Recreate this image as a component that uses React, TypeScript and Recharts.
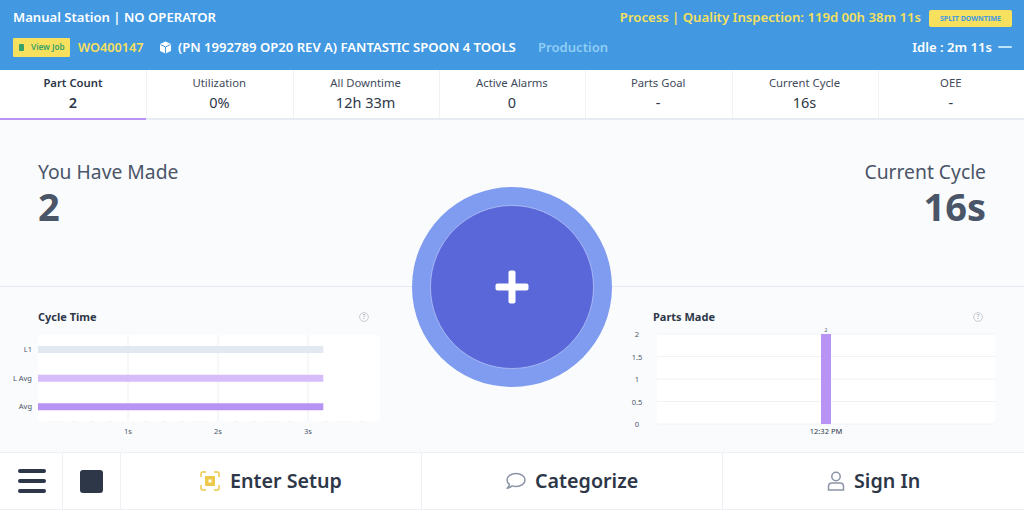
import { BarChart, Bar, XAxis, YAxis, CartesianGrid, LabelList } from 'recharts';

const FONT = '"Noto Sans", sans-serif';

// Cycle Time panel
const cycleLabels = ['L1', 'L Avg', 'Avg'];
const cycleValues = [3.17, 3.17, 3.17];
const cycleColors = ['#E2E8F0', '#D6BCFA', '#B794F4'];
const cycleTicks = [0.2, 0.4, 0.6, 0.8, 1, 1.2, 1.4, 1.6, 1.8, 2, 2.2, 2.4, 2.6, 2.8, 3, 3.2, 3.4, 3.6];
const cycleGridValues = [1, 2, 3];

// Parts Made panel
const partsLabels = ['12:32 PM'];
const partsValues = [2];
const partsTicks = [0, 0.5, 1, 1.5, 2];

// Tabs
const tabTitles = ['Part Count', 'Utilization', 'All Downtime', 'Active Alarms', 'Parts Goal', 'Current Cycle', 'OEE'];
const tabValues = ['2', '0%', '12h 33m', '0', '-', '16s', '-'];

const cycleData = cycleLabels.map((name, i) => ({ name, value: cycleValues[i], fill: cycleColors[i] }));
const partsData = partsLabels.map((name, i) => ({ name, value: partsValues[i] }));

const Txt = ({ x, y, size, color, weight = 400, anchor = 'left', children }: any) => (
  <div
    style={{
      position: 'absolute',
      top: y,
      left: anchor === 'left' ? x : undefined,
      right: anchor === 'right' ? 1024 - x : undefined,
      width: anchor === 'center' ? 200 : undefined,
      marginLeft: anchor === 'center' ? x - 100 : undefined,
      textAlign: anchor === 'center' ? 'center' : undefined,
      fontSize: size,
      color,
      fontWeight: weight,
      lineHeight: 1,
      whiteSpace: 'nowrap',
    }}
  >
    {children}
  </div>
);

const Box = ({ x, y, w, h, color, radius = 0 }: any) => (
  <div style={{ position: 'absolute', left: x, top: y, width: w, height: h, background: color, borderRadius: radius }} />
);

const HelpIcon = ({ x, y }: any) => (
  <svg style={{ position: 'absolute', left: x, top: y }} width="10" height="10" viewBox="0 0 10 10">
    <circle cx="5" cy="5" r="4.4" fill="none" stroke="#B4BAC4" strokeWidth="0.7" />
    <text x="5" y="7.2" textAnchor="middle" fontSize="6.5" fill="#A0A7B3" fontFamily={FONT}>?</text>
  </svg>
);

// only whole seconds get a label, the rest are small marks on the bottom edge
const CycleTick = ({ x, y, payload }: any) =>
  Number.isInteger(payload.value) ? (
    <text x={x} y={y + 13} textAnchor="middle" fontSize={7.5} fill="#4A5568" fontFamily={FONT}>
      {payload.value}s
    </text>
  ) : (
    <line x1={x} x2={x} y1={y} y2={y + 1} stroke="#D5D9E0" strokeWidth={0.7} />
  );

// plain svg text, the default tick wraps "L Avg" onto two lines
const CycleLabelTick = ({ y, payload }: any) => (
  <text x={32} y={y + 2.5} textAnchor="end" fontSize={7.5} fill="#4A5568" fontFamily={FONT}>
    {payload.value}
  </text>
);

const PartsTick = ({ y, payload }: any) => (
  <text x={17} y={y + 3} textAnchor="middle" fontSize={7.5} fill="#4A5568" fontFamily={FONT}>
    {payload.value}
  </text>
);

const App = () => {
  return (
    <div
      style={{
        position: 'fixed',
        left: 0,
        top: 0,
        width: 1024,
        height: 510,
        overflow: 'hidden',
        background: '#FAFBFD',
        fontFamily: FONT,
      }}
    >
      {/* header */}
      <Box x={0} y={0} w={1024} h={70} color="#4299E1" />
      <Txt x={13} y={11} size={13.1} color="#fff" weight={600}>Manual Station | NO OPERATOR</Txt>
      <Box x={13} y={38} w={57} h={19} color="#F6E05E" radius={1} />
      <Box x={19} y={44} w={5} h={7} color="#38A169" radius={1} />
      <Txt x={31} y={43} size={8.2} color="#38A169" weight={600}>View Job</Txt>
      <Txt x={78} y={41} size={12.7} color="#F6E05E" weight={600}>WO400147</Txt>
      <svg style={{ position: 'absolute', left: 159, top: 41 }} width="13" height="13" viewBox="0 0 13 13">
        <path d="M6.5 0.5 L12 3 V10 L6.5 12.5 L1 10 V3 Z" fill="#fff" />
        <path d="M1.5 3.5 L6.5 6 L11.5 3.5 M6.5 6 V12.5" fill="none" stroke="#4299E1" strokeWidth="1" />
      </svg>
      <Txt x={178} y={41} size={13.1} color="#fff" weight={600}>(PN 1992789 OP20 REV A) FANTASTIC SPOON 4 TOOLS</Txt>
      <Txt x={538} y={41} size={13.1} color="#90CDF4" weight={600}>Production</Txt>
      <Txt x={921} y={11} size={13.15} color="#F6E05E" weight={600} anchor="right">Process | Quality Inspection: 119d 00h 38m 11s</Txt>
      <Box x={929} y={10} w={83} h={17} color="#F6E05E" radius={2} />
      <Txt x={970.5} y={15} size={7} color="#4299E1" weight={700} anchor="center">SPLIT DOWNTIME</Txt>
      <Txt x={992} y={41} size={13.1} color="#fff" weight={600} anchor="right">Idle : 2m 11s</Txt>
      <Box x={998} y={46} w={14} h={2} color="#BEE3F8" radius={1} />

      {/* tabs */}
      <Box x={0} y={70} w={1024} h={48} color="#fff" />
      <Box x={0} y={118} w={1024} h={2} color="#E8EBF1" />
      <Box x={0} y={118} w={146} h={2} color="#B794F4" />
      {tabTitles.map((title, i) => {
        const center = 73 + i * 146.3;
        return (
          <div key={title}>
            {i > 0 && <Box x={i * 146.3} y={70} w={1} h={48} color="#F0F2F6" />}
            <Txt x={center} y={77} size={11.3} color={i === 0 ? '#2D3748' : '#3F4A5A'} weight={i === 0 ? 600 : 400} anchor="center">{title}</Txt>
            <Txt x={center} y={95} size={14.5} color="#2D3748" weight={i === 0 ? 600 : 400} anchor="center">{tabValues[i]}</Txt>
          </div>
        );
      })}

      {/* middle */}
      <Txt x={38} y={162} size={19.3} color="#4A5568">You Have Made</Txt>
      <Txt x={38} y={187} size={38} color="#4A5568" weight={700}>2</Txt>
      <Txt x={986} y={162} size={19.3} color="#4A5568" anchor="right">Current Cycle</Txt>
      <Txt x={986} y={187} size={38} color="#4A5568" weight={700} anchor="right">16s</Txt>
      <Box x={0} y={286} w={1024} h={1} color="#E6E9F1" />

      <svg style={{ position: 'absolute', left: 412, top: 187 }} width="200" height="200" viewBox="0 0 200 200">
        <circle cx="100" cy="100" r="100" fill="#7F9CF0" />
        <circle cx="100" cy="100" r="81.5" fill="#5A67D8" stroke="#DCE6FF" strokeWidth="0.5" />
        <rect x="83.5" y="96.5" width="33" height="7" rx="2" fill="#fff" />
        <rect x="96.5" y="83.5" width="7" height="33" rx="2" fill="#fff" />
      </svg>

      {/* Cycle Time */}
      <Txt x={38} y={311} size={11} color="#2D3748" weight={700}>Cycle Time</Txt>
      <HelpIcon x={359} y={312} />
      <div style={{ position: 'absolute', left: 0, top: 325 }}>
        <BarChart
          width={400}
          height={125}
          layout="vertical"
          data={cycleData}
          margin={{ top: 10, right: 20, bottom: 0, left: 0 }}
        >
          <CartesianGrid
            fill="#fff"
            stroke="#EEF0F4"
            horizontal={false}
            verticalValues={cycleGridValues}
          />
          <XAxis
            type="number"
            domain={[0, 3.8]}
            ticks={cycleTicks}
            interval={0}
            height={29}
            axisLine={false}
            tickLine={false}
            tickSize={0}
            tickMargin={0}
            tick={<CycleTick />}
          />
          <YAxis
            type="category"
            dataKey="name"
            width={38}
            axisLine={false}
            tickLine={false}
            tick={<CycleLabelTick />}
          />
          <Bar dataKey="value" barSize={7} isAnimationActive={false} />
        </BarChart>
      </div>

      {/* Parts Made */}
      <Txt x={653} y={311} size={11} color="#2D3748" weight={700}>Parts Made</Txt>
      <HelpIcon x={973} y={312} />
      <div style={{ position: 'absolute', left: 620, top: 325 }}>
        <BarChart
          width={404}
          height={125}
          data={partsData}
          margin={{ top: 9, right: 29, bottom: 0, left: 0 }}
        >
          <CartesianGrid fill="#fff" stroke="#F0F2F6" vertical={false} syncWithTicks />
          <XAxis
            dataKey="name"
            height={26}
            axisLine={false}
            tickLine={false}
            tickSize={0}
            tickMargin={5}
            tick={{ fontSize: 7.5, fill: '#2D3748', fontFamily: FONT }}
          />
          <YAxis
            type="number"
            domain={[0, 2]}
            ticks={partsTicks}
            interval={0}
            width={37}
            axisLine={false}
            tickLine={false}
            tick={<PartsTick />}
          />
          <Bar dataKey="value" barSize={10} fill="#B794F4" isAnimationActive={false}>
            <LabelList dataKey="value" position="top" offset={2} fontSize={5} fill="#4A5568" fontFamily={FONT} />
          </Bar>
        </BarChart>
      </div>

      {/* bottom bar */}
      <Box x={0} y={452} w={1024} h={58} color="#fff" />
      <Box x={0} y={452} w={1024} h={1} color="#EDF0F5" />
      <Box x={0} y={509} w={1024} h={1} color="#EDF0F5" />
      <Box x={62} y={452} w={1} h={58} color="#EDF0F5" />
      <Box x={120} y={452} w={1} h={58} color="#EDF0F5" />
      <Box x={421} y={452} w={1} h={58} color="#EDF0F5" />
      <Box x={722} y={452} w={1} h={58} color="#EDF0F5" />
      <Box x={18} y={469} w={28} h={4} color="#2D3748" radius={2} />
      <Box x={18} y={479} w={28} h={4} color="#2D3748" radius={2} />
      <Box x={18} y={489} w={28} h={4} color="#2D3748" radius={2} />
      <Box x={80} y={470} w={23} h={23} color="#2D3748" radius={3} />

      <svg style={{ position: 'absolute', left: 200, top: 471 }} width="20" height="20" viewBox="0 0 20 20">
        <path d="M1 6 V2.5 Q1 1 2.5 1 H6 M14 1 H17.5 Q19 1 19 2.5 V6 M19 14 V17.5 Q19 19 17.5 19 H14 M6 19 H2.5 Q1 19 1 17.5 V14" fill="none" stroke="#ECC94B" strokeWidth="1.5" />
        <rect x="5" y="5" width="10" height="10" rx="1" fill="#ECC94B" />
        <rect x="8.5" y="8.5" width="3" height="3" fill="#fff" />
      </svg>
      <Txt x={230} y={471} size={19.7} color="#2D3748" weight={600}>Enter Setup</Txt>

      <svg style={{ position: 'absolute', left: 506, top: 472 }} width="20" height="18" viewBox="0 0 20 18">
        <path d="M10 1.5 C15 1.5 19 4.3 19 8 C19 11.7 15 14.5 10 14.5 C8.6 14.5 7.3 14.3 6.2 13.9 C5 15 3.4 16 1.5 16 C2.7 14.8 3.3 13.5 3.4 12.4 C2 11.2 1 9.7 1 8 C1 4.3 5 1.5 10 1.5 Z" fill="none" stroke="#8A94A6" strokeWidth="1.5" />
      </svg>
      <Txt x={535} y={471} size={19.7} color="#2D3748" weight={600}>Categorize</Txt>

      <svg style={{ position: 'absolute', left: 827, top: 471 }} width="18" height="20" viewBox="0 0 18 20">
        <circle cx="9" cy="5.5" r="4.2" fill="none" stroke="#8A94A6" strokeWidth="1.5" />
        <path d="M1.5 19 V15.5 Q1.5 12 5 12 H13 Q16.5 12 16.5 15.5 V19 Z" fill="none" stroke="#8A94A6" strokeWidth="1.5" />
      </svg>
      <Txt x={854} y={471} size={19.7} color="#2D3748" weight={600}>Sign In</Txt>
    </div>
  );
};

export default App;
